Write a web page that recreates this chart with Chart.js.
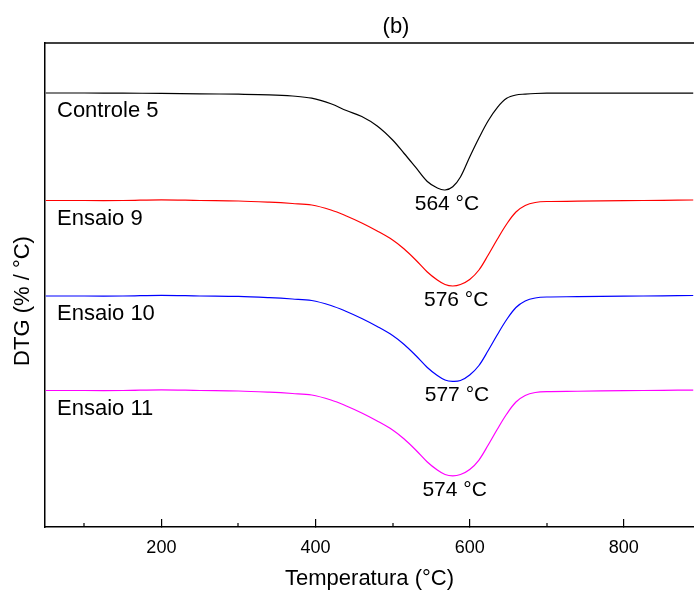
<!DOCTYPE html>
<html>
<head>
<meta charset="utf-8">
<script src="https://cdn.jsdelivr.net/npm/chart.js@4"></script>
<style>
  html, body { margin: 0; padding: 0; background: #fff; }
  canvas { display: block; }
</style>
</head>
<body>
<canvas id="dtgChart" width="694" height="594"></canvas>
<script>
const temps = [50, 100, 150, 200, 250, 300, 340, 370, 395, 420, 440, 460, 480, 500, 515, 530, 545, 558, 568, 578, 588, 600, 612, 624, 636, 648, 660, 672, 685, 700, 740, 800, 850, 890];

// DTG curves, stacked with an offset (arbitrary units)
const controle5 = [89.67, 89.67, 89.63, 89.59, 89.50, 89.42, 89.30, 89.05, 88.60, 87.44, 86.05, 84.81, 82.85, 79.96, 77.17, 74.28, 71.38, 70.04, 69.63, 70.31, 72.31, 76.45, 80.37, 83.93, 86.71, 88.57, 89.26, 89.44, 89.57, 89.63, 89.63, 89.63, 89.63, 89.63];
const ensaio9 = [67.46, 67.46, 67.46, 67.60, 67.46, 67.36, 67.11, 66.84, 66.53, 65.50, 64.26, 62.81, 61.16, 59.30, 57.44, 55.17, 52.69, 51.03, 50.10, 49.79, 50.10, 51.14, 53.10, 56.20, 59.50, 62.60, 65.08, 66.43, 67.05, 67.25, 67.31, 67.42, 67.50, 67.56];
const ensaio10 = [47.73, 47.73, 47.73, 47.87, 47.73, 47.63, 47.38, 47.11, 46.80, 45.77, 44.53, 43.08, 41.43, 39.57, 37.71, 35.44, 32.96, 31.30, 30.37, 30.10, 30.27, 31.41, 33.37, 36.47, 39.77, 42.87, 45.35, 46.70, 47.32, 47.52, 47.58, 47.69, 47.77, 47.83];
const ensaio11 = [28.20, 28.20, 28.20, 28.34, 28.20, 28.10, 27.85, 27.58, 27.27, 26.24, 25.00, 23.55, 21.90, 20.04, 18.18, 15.91, 13.43, 11.77, 10.84, 10.55, 10.84, 11.88, 13.84, 16.94, 20.24, 23.34, 25.82, 27.17, 27.79, 27.99, 28.05, 28.16, 28.24, 28.30];

const seriesNames = ['Controle 5', 'Ensaio 9', 'Ensaio 10', 'Ensaio 11'];
const peakTemps = [564, 576, 577, 574];
const majorTicks = [200, 400, 600, 800];
const minorTicks = [100, 300, 500, 700];
const colors = ['#000000', '#ff0000', '#0000ff', '#ff00ff'];

const FONT = '"Liberation Sans", Arial, sans-serif';

const series = [controle5, ensaio9, ensaio10, ensaio11];

// labels on the curves, top frame line, minor ticks and y title
const annotate = {
  id: 'annotate',
  afterDraw(chart) {
    const { ctx, chartArea: a, scales: { x, y } } = chart;
    ctx.save();
    ctx.strokeStyle = '#000';
    ctx.lineWidth = 1.5;
    ctx.beginPath();
    ctx.moveTo(a.left, a.top);
    ctx.lineTo(a.right, a.top);
    ctx.stroke();

    ctx.lineWidth = 1.2;
    ctx.beginPath();
    minorTicks.forEach(v => {
      const px = Math.round(x.getPixelForValue(v));
      ctx.moveTo(px, a.bottom);
      ctx.lineTo(px, a.bottom - 4);
    });
    ctx.stroke();

    ctx.fillStyle = '#000';
    ctx.textBaseline = 'middle';
    ctx.textAlign = 'center';
    ctx.font = `22px ${FONT}`;
    ctx.fillText('(b)', 396, a.top - 16);

    series.forEach((vals, i) => {
      const base = y.getPixelForValue(vals[0]);
      const low = Math.min(...vals);
      ctx.textAlign = 'left';
      ctx.font = `22px ${FONT}`;
      ctx.fillText(seriesNames[i], a.left + 12, base + 18);
      ctx.textAlign = 'center';
      ctx.font = `21px ${FONT}`;
      ctx.fillText(`${peakTemps[i]} °C`, x.getPixelForValue(peakTemps[i]) + 5, y.getPixelForValue(low) + 14);
    });

    ctx.font = `22px ${FONT}`;
    ctx.translate(23, 301);
    ctx.rotate(-Math.PI / 2);
    ctx.textAlign = 'center';
    ctx.fillText('DTG (% / °C)', 0, 0);
    ctx.restore();
  }
};

new Chart(document.getElementById('dtgChart'), {
  type: 'line',
  data: {
    datasets: series.map((vals, i) => ({
      label: seriesNames[i],
      data: temps.map((t, j) => ({ x: t, y: vals[j] })),
      borderColor: colors[i],
      borderWidth: 1.2,
      pointRadius: 0,
      fill: false,
      tension: 0.35
    }))
  },
  options: {
    responsive: false,
    animation: false,
    layout: { padding: { top: 43, left: 0, right: 0, bottom: 0 } },
    plugins: { legend: { display: false }, tooltip: { enabled: false } },
    scales: {
      x: {
        type: 'linear',
        min: 49,
        max: 891,
        afterBuildTicks: s => { s.ticks = majorTicks.map(v => ({ value: v })); },
        afterFit: s => { s.height = 67; },
        border: { display: true, color: '#000', width: 1.5 },
        grid: { drawOnChartArea: false, tickLength: -8, color: '#000', lineWidth: 1.2 },
        ticks: { color: '#000', font: { family: FONT, size: 18 }, padding: 18, maxRotation: 0 },
        title: { display: true, text: 'Temperatura (°C)', color: '#000', font: { family: FONT, size: 22 }, padding: { top: 0, bottom: 2 } }
      },
      y: {
        min: 0,
        max: 100,
        afterFit: s => { s.width = 45; },
        border: { display: true, color: '#000', width: 1.5 },
        grid: { display: false },
        ticks: { display: false }
      }
    }
  },
  plugins: [annotate]
});
</script>
</body>
</html>
